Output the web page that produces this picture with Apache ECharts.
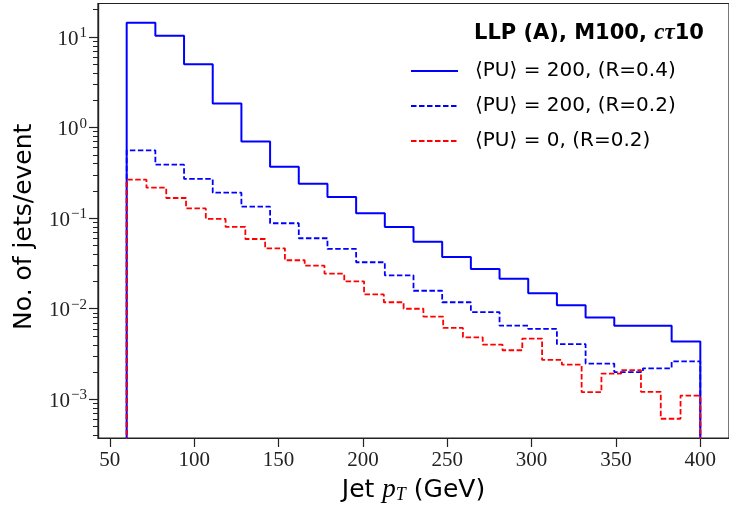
<!DOCTYPE html>
<html>
<head>
<meta charset="utf-8">
<script src="https://cdn.jsdelivr.net/npm/echarts@6/dist/echarts.min.js"></script>
<style>
  html, body { margin: 0; padding: 0; background: #fff; }
  #chart { width: 729px; height: 509px; }
</style>
</head>
<body>
<div id="chart"></div>
<script>
// histogram binning (GeV)
const ptLow = 60
const ptHigh = 400

// jets per event, one value per bin
const pu200R04 = [14.4, 10.3, 5.0, 1.85, 0.70, 0.37, 0.240, 0.171, 0.113, 0.080,
  0.055, 0.0373, 0.0275, 0.0215, 0.0148, 0.0109, 0.0080, 0.0065, 0.0065, 0.00434]
const pu200R02 = [0.561, 0.390, 0.271, 0.191, 0.134, 0.0879, 0.060, 0.0457, 0.0326, 0.0234,
  0.0158, 0.0118, 0.0092, 0.0065, 0.00599, 0.00406, 0.00248, 0.00200, 0.00220, 0.00263]
const pu0R02 = [0.266, 0.217, 0.167, 0.128, 0.098, 0.080, 0.0589, 0.0465, 0.0343, 0.0299,
  0.0244, 0.0201, 0.0144, 0.0118, 0.0100, 0.00818, 0.00614, 0.00484, 0.00402, 0.00348,
  0.00468, 0.00272, 0.00242, 0.00120, 0.00192, 0.00210, 0.00121, 0.00061, 0.00110]

const seriesNames = ['⟨PU⟩ = 200, (R=0.4)', '⟨PU⟩ = 200, (R=0.2)', '⟨PU⟩ = 0, (R=0.2)']
const xTicks = [50, 100, 150, 200, 250, 300, 350, 400]
const yDecades = [-3, -2, -1, 0, 1]

const xMin = 43
const xMax = 417
const yMin = -3.427 // log10 units
const yMax = 1.37

// step outline of a histogram, y in log10
function stepPoints(counts) {
  const w = (ptHigh - ptLow) / counts.length
  const bottom = yMin - 2
  const pts = [[ptLow, bottom]]
  counts.forEach(function(c, i) {
    pts.push([ptLow + i * w, Math.log10(c)])
  })
  pts.push([ptHigh, Math.log10(counts[counts.length - 1])])
  pts.push([ptHigh, bottom])
  return pts
}

const minorTicks = []
yDecades.concat([-4]).forEach(function(d) {
  for (let k = 2; k <= 9; k++) {
    const v = d + Math.log10(k)
    if (v > yMin && v < yMax) minorTicks.push(v)
  }
})

const serifFont = 'Liberation Serif'
const sansFont = 'DejaVu Sans, sans-serif'
const axisColor = '#222'

const chart = echarts.init(document.getElementById('chart'))
const option = {
  animation: false,
  title: {
    left: 474,
    top: 22,
    padding: 0,
    text: '{b|LLP (A), M100, }{m|cτ}{b|10}',
    textStyle: {
      rich: {
        b: { fontFamily: sansFont, fontWeight: 'bold', fontSize: 21, color: '#000' },
        m: { fontFamily: serifFont, fontStyle: 'italic', fontSize: 23, color: '#000' }
      }
    }
  },
  legend: {
    orient: 'vertical',
    left: 410,
    top: 60,
    padding: 0,
    itemWidth: 47,
    itemHeight: 14,
    itemGap: 13,
    selectedMode: false,
    data: seriesNames,
    itemStyle: { opacity: 0 },
    textStyle: { fontFamily: sansFont, fontSize: 20, color: '#000', lineHeight: 22, padding: [0, 0, 0, 12] }
  },
  grid: {
    left: 98,
    top: 3.5,
    width: 632,
    height: 434.5,
    show: true,
    borderColor: axisColor,
    borderWidth: 1.2,
    containLabel: false
  },
  xAxis: {
    type: 'value',
    min: xMin,
    max: xMax,
    name: 'Jet {i|p}{s|T} (GeV)',
    nameLocation: 'middle',
    nameGap: 38,
    nameTextStyle: {
      fontFamily: sansFont,
      fontSize: 25,
      color: '#000',
      rich: {
        i: { fontFamily: serifFont, fontStyle: 'italic', fontSize: 27, color: '#000' },
        s: { fontFamily: serifFont, fontStyle: 'italic', fontSize: 18, color: '#000', padding: [10, 0, 0, 0] }
      }
    },
    axisLine: { onZero: false, lineStyle: { color: axisColor, width: 1.2 } },
    axisTick: { customValues: xTicks, length: 9, lineStyle: { color: axisColor, width: 1.2 } },
    axisLabel: {
      customValues: xTicks,
      margin: 12,
      fontFamily: serifFont,
      fontSize: 21,
      color: '#222'
    },
    splitLine: { show: false }
  },
  yAxis: [{
    type: 'value',
    min: yMin,
    max: yMax,
    name: 'No. of jets/event',
    nameLocation: 'middle',
    nameGap: 61,
    nameTextStyle: { fontFamily: sansFont, fontSize: 25, color: '#000', padding: [0, 12, 0, 0] },
    axisLine: { show: true, onZero: false, lineStyle: { color: axisColor, width: 1.2 } },
    axisTick: { show: true, customValues: yDecades, length: 9, lineStyle: { color: axisColor, width: 1.2 } },
    axisLabel: {
      customValues: yDecades,
      margin: 11,
      formatter: function(v) {
        const n = Math.round(v)
        return '{b|10}{e|' + (n < 0 ? '−' + (-n) : n) + '}'
      },
      rich: {
        b: { fontFamily: serifFont, fontSize: 21, color: '#222', padding: [4, 0, 0, 0] },
        e: { fontFamily: serifFont, fontSize: 15, color: '#222', padding: [0, 0, 8, 1] }
      }
    },
    splitLine: { show: false }
  }, {
    type: 'value',
    min: yMin,
    max: yMax,
    position: 'left',
    axisLine: { show: true, onZero: false, lineStyle: { color: axisColor, width: 1.2 } },
    axisTick: { show: true, customValues: minorTicks, length: 5, lineStyle: { color: axisColor, width: 1 } },
    axisLabel: { show: false },
    splitLine: { show: false }
  }],
  series: [{
    name: seriesNames[0],
    type: 'line',
    step: 'end',
    symbol: 'none',
    data: stepPoints(pu200R04),
    lineStyle: { color: '#0000ff', width: 2 },
    itemStyle: { color: '#0000ff' }
  }, {
    name: seriesNames[1],
    type: 'line',
    step: 'end',
    symbol: 'none',
    data: stepPoints(pu200R02),
    lineStyle: { color: '#0000ff', width: 1.8, type: [5.5, 2.5] },
    itemStyle: { color: '#0000ff' }
  }, {
    name: seriesNames[2],
    type: 'line',
    step: 'end',
    symbol: 'none',
    data: stepPoints(pu0R02),
    lineStyle: { color: '#ff0000', width: 1.8, type: [5.5, 2.5] },
    itemStyle: { color: '#ff0000' }
  }]
}
chart.setOption(option)
</script>
</body>
</html>
